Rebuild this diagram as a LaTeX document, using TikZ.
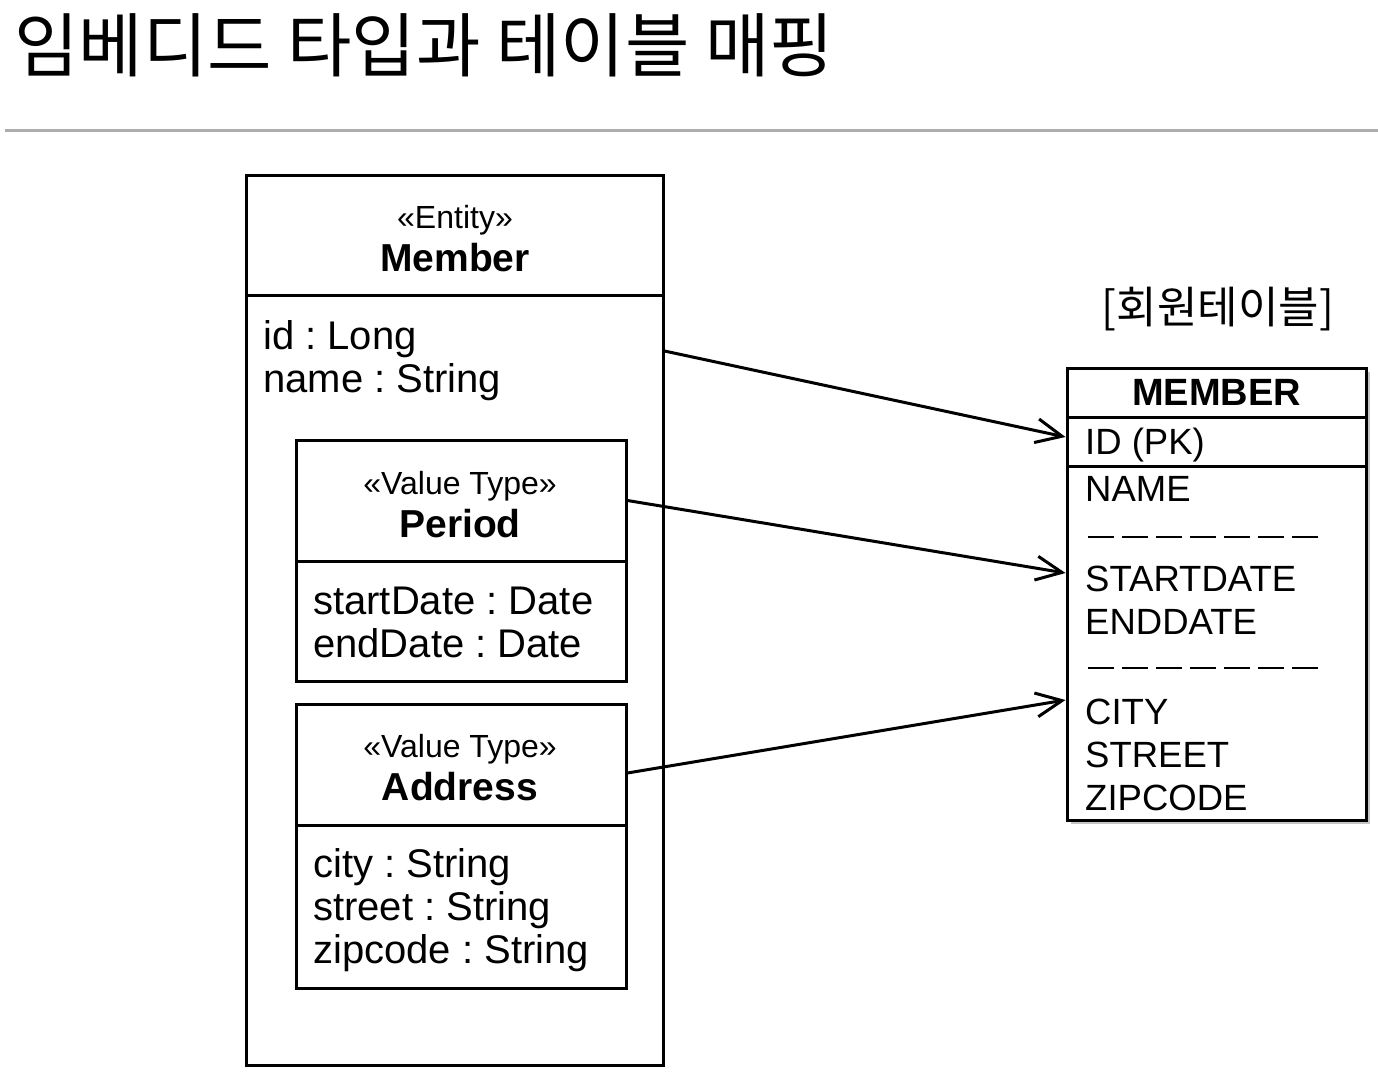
\documentclass[tikz,border=0pt]{standalone}
\usepackage{fontspec}
\setmainfont{Liberation Sans}
\newfontfamily\krfont{Noto Sans CJK KR}
\usepackage{tikz}
\usetikzlibrary{arrows.meta,positioning,calc,shadows}
\frenchspacing
\newcommand\stereofont{\fontsize{32}{38}\selectfont}
\newcommand\classfont{\fontsize{39}{46}\selectfont\bfseries}
\newcommand\attrfont{\fontsize{40}{43}\selectfont}
\newcommand\colfont{\fontsize{36.5}{43}\selectfont}
\tikzstyle{umlbox}=[draw,line width=3pt,inner sep=0pt]
\tikzstyle{stereo}=[font=\stereofont,anchor=base,inner sep=0pt]
\tikzstyle{cname}=[font=\classfont,anchor=base,inner sep=0pt]
\tikzstyle{attr}=[font=\attrfont,anchor=base west,inner sep=0pt]
\tikzstyle{col}=[font=\colfont,anchor=base west,inner sep=0pt]
\tikzstyle{mapto}=[line width=3pt,
  -{Straight Barb[length=26pt,width=24pt,line width=3pt]}]
\tikzstyle{sepdash}=[line width=2pt,dash pattern=on 26pt off 8pt]

\begin{document}
\begin{tikzpicture}[x=1pt,y=-1pt]
  \useasboundingbox[fill=white] (0,0) rectangle (1378,1087);
  % title
  \node[anchor=west,inner sep=0pt,font=\krfont\fontsize{70}{80}\selectfont]
    (title) at (14,45) {임베디드 타입과 테이블 매핑};
  \draw[line width=3pt,black!32] (5,130) -- (1378,130);

  % entity
  \node[umlbox,minimum width=417pt,minimum height=890pt] (member) at (454.5,620) {};
  \node[umlbox,minimum width=417pt,minimum height=120pt] (memhead) at (454.5,235) {};
  \node[stereo] (memst) at (455,228) {«Entity»};
  \node[cname] (memname) at (455,271) {Member};
  \node[attr] (memid) at (263,349) {id : Long};
  \node[attr] (memnm) at (263,392) {name : String};

  % value types
  \node[umlbox,minimum width=330pt,minimum height=241pt] (period) at (461,560.5) {};
  \node[umlbox,minimum width=330pt,minimum height=121pt] (perhead) at (461,500.5) {};
  \node[stereo] (perst) at (460,494) {«Value Type»};
  \node[cname] (pername) at (460,537) {Period};
  \node[attr] (perstart) at (313,614) {startDate : Date};
  \node[attr] (perend) at (313,657) {endDate : Date};

  \node[umlbox,minimum width=330pt,minimum height=284pt] (address) at (461,846) {};
  \node[umlbox,minimum width=330pt,minimum height=121pt] (addhead) at (461,764.5) {};
  \node[stereo] (addst) at (460,757) {«Value Type»};
  \node[cname] (addname) at (460,800) {Address};
  \node[attr] (addcity) at (313,877) {city : String};
  \node[attr] (addstreet) at (313,920) {street : String};
  \node[attr] (addzip) at (313,963) {zipcode : String};

  % table
  \node[inner sep=0pt,font=\krfont\fontsize{44}{50}\selectfont]
    (tbllabel) at (1218,309) {[회원테이블]};
  \node[umlbox,fill=white,minimum width=299pt,minimum height=452pt,
    drop shadow={shadow xshift=4pt,shadow yshift=-4pt,opacity=0.45}]
    (tbl) at (1216.5,594) {};
  \node[umlbox,minimum width=299pt,minimum height=49pt,
    font=\fontsize{38}{44}\selectfont\bfseries] (tblhead) at (1216.5,392.5) {MEMBER};
  \node[umlbox,minimum width=299pt,minimum height=49pt] (tblpk) at (1216.5,441.5) {};
  \foreach \y/\txt/\nm in {454/{ID (PK)}/colpk, 501/NAME/colname,
      591/STARTDATE/colstart, 634/ENDDATE/colend,
      724/CITY/colcity, 767/STREET/colstreet, 810/ZIPCODE/colzip}
    \node[col] (\nm) at (1085,\y) {\txt};
  \draw[sepdash] (1088,537) -- (1318,537);
  \draw[sepdash] (1088,668) -- (1318,668);

  % mappings
  \draw[mapto] (member.east |- 0,351) -- (tbl.west |- 0,437);
  \draw[mapto] (perhead.east) -- (tbl.west |- 0,573);
  \draw[mapto] (addhead.east |- 0,773) -- (tbl.west |- 0,700);
\end{tikzpicture}
\end{document}
